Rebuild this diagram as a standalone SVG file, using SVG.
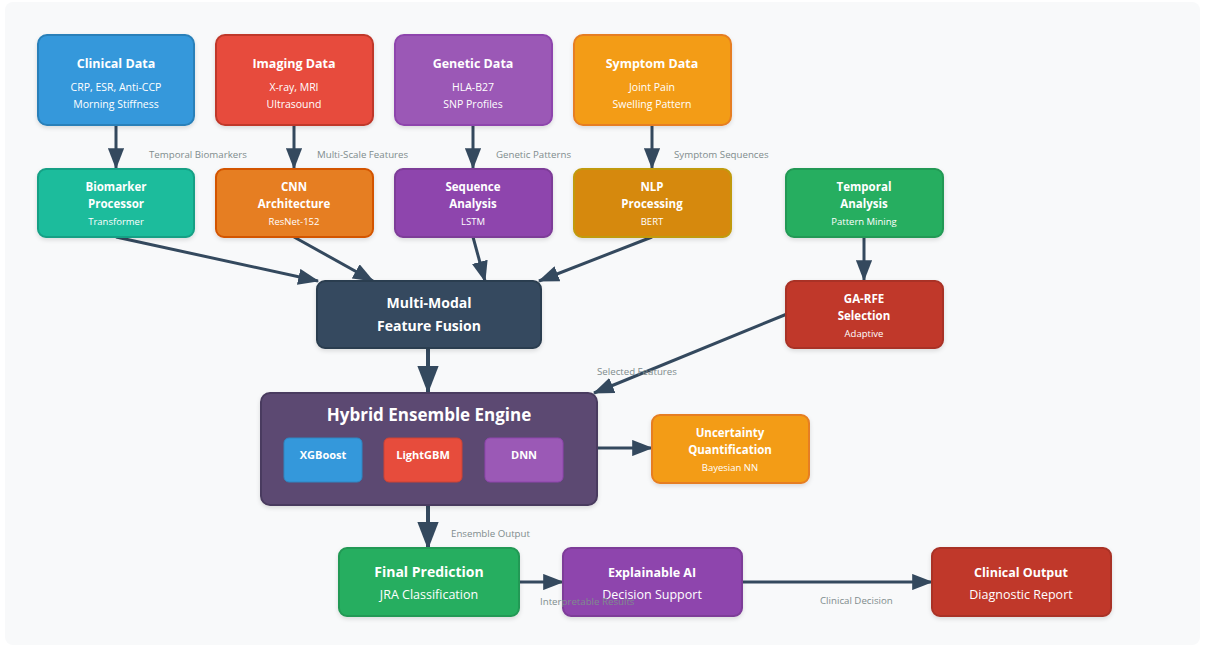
<svg xmlns="http://www.w3.org/2000/svg" width="1205" height="647" viewBox="0 0 1205 647">
<defs>
<marker id="ah" viewBox="0 0 7 5.4" refX="6.6" refY="2.7" markerWidth="7" markerHeight="5.4" orient="auto" markerUnits="strokeWidth">
<path d="M0,0 L7,2.7 L0,5.4 z" fill="#34495e"/>
</marker>
<filter id="sh" x="-10%" y="-10%" width="120%" height="130%">
<feDropShadow dx="0" dy="2" stdDeviation="2" flood-color="#000" flood-opacity="0.12"/>
</filter>
</defs>
<style>
text{font-family:"Open Sans","Noto Sans","Liberation Sans",sans-serif;text-anchor:middle;fill:#fff}
.t{font-size:12.5px;font-weight:bold}
.t2{font-size:11.5px;font-weight:bold}
.s{font-size:10.5px}
.s2{font-size:9.5px}
.big{font-size:14px;font-weight:bold}
.lbl{font-size:9.7px;fill:#7f8c8d;text-anchor:start}
.node{stroke-width:2;filter:url(#sh)}
.c{fill:none;stroke:#34495e;stroke-width:3;marker-end:url(#ah)}
.cw{stroke-width:4}
</style>
<rect x="5" y="2" width="1195" height="643" rx="8" fill="#f8f9fa"/>

<g id="connectors">
<line class="c" x1="116" y1="125" x2="116" y2="168"/>
<line class="c" x1="294" y1="125" x2="294" y2="168"/>
<line class="c" x1="473" y1="125" x2="473" y2="168"/>
<line class="c" x1="652" y1="125" x2="652" y2="168"/>
<line class="c" x1="116" y1="237" x2="318" y2="281"/>
<line class="c" x1="294" y1="237" x2="373" y2="281"/>
<line class="c" x1="473" y1="237" x2="485" y2="281"/>
<line class="c" x1="652" y1="237" x2="539" y2="281"/>
<line class="c" x1="864" y1="237" x2="864" y2="280"/>
<line class="c" x1="787" y1="314" x2="594" y2="393"/>
<line class="c cw" x1="428" y1="348" x2="428" y2="392"/>
<line class="c" x1="598" y1="448" x2="652" y2="448"/>
<line class="c cw" x1="428" y1="505" x2="428" y2="548"/>
<line class="c" x1="519" y1="582" x2="563" y2="582"/>
<line class="c" x1="742" y1="582" x2="932" y2="582"/>
</g>

<g id="clinical-data">
<rect class="node" x="38" y="35" width="156" height="90" rx="9" fill="#3498db" stroke="#2980b9"/>
<text class="t" x="116" y="68">Clinical Data</text>
<text class="s" x="116" y="91">CRP, ESR, Anti-CCP</text>
<text class="s" x="116" y="108">Morning Stiffness</text>
</g>
<g id="imaging-data">
<rect class="node" x="216" y="35" width="157" height="90" rx="9" fill="#e74c3c" stroke="#c0392b"/>
<text class="t" x="294" y="68">Imaging Data</text>
<text class="s" x="294" y="91">X-ray, MRI</text>
<text class="s" x="294" y="108">Ultrasound</text>
</g>
<g id="genetic-data">
<rect class="node" x="395" y="35" width="157" height="90" rx="9" fill="#9b59b6" stroke="#8e44ad"/>
<text class="t" x="473" y="68">Genetic Data</text>
<text class="s" x="473" y="91">HLA-B27</text>
<text class="s" x="473" y="108">SNP Profiles</text>
</g>
<g id="symptom-data">
<rect class="node" x="574" y="35" width="157" height="90" rx="9" fill="#f39c12" stroke="#e67e22"/>
<text class="t" x="652" y="68">Symptom Data</text>
<text class="s" x="652" y="91">Joint Pain</text>
<text class="s" x="652" y="108">Swelling Pattern</text>
</g>

<g id="biomarker-processor">
<rect class="node" x="38" y="169" width="156" height="68" rx="8" fill="#1abc9c" stroke="#16a085"/>
<text class="t2" x="116" y="191">Biomarker</text>
<text class="t2" x="116" y="208">Processor</text>
<text class="s2" x="116" y="225">Transformer</text>
</g>
<g id="cnn-architecture">
<rect class="node" x="216" y="169" width="157" height="68" rx="8" fill="#e67e22" stroke="#d35400"/>
<text class="t2" x="294" y="191">CNN</text>
<text class="t2" x="294" y="208">Architecture</text>
<text class="s2" x="294" y="225">ResNet-152</text>
</g>
<g id="sequence-analysis">
<rect class="node" x="395" y="169" width="157" height="68" rx="8" fill="#8e44ad" stroke="#7d3c98"/>
<text class="t2" x="473" y="191">Sequence</text>
<text class="t2" x="473" y="208">Analysis</text>
<text class="s2" x="473" y="225">LSTM</text>
</g>
<g id="nlp-processing">
<rect class="node" x="574" y="169" width="157" height="68" rx="8" fill="#d68910" stroke="#c19a0c"/>
<text class="t2" x="652" y="191">NLP</text>
<text class="t2" x="652" y="208">Processing</text>
<text class="s2" x="652" y="225">BERT</text>
</g>
<g id="temporal-analysis">
<rect class="node" x="786" y="169" width="157" height="68" rx="8" fill="#27ae60" stroke="#229954"/>
<text class="t2" x="864" y="191">Temporal</text>
<text class="t2" x="864" y="208">Analysis</text>
<text class="s2" x="864" y="225">Pattern Mining</text>
</g>
<g id="ga-rfe-selection">
<rect class="node" x="786" y="281" width="157" height="67" rx="8" fill="#c0392b" stroke="#a93226"/>
<text class="t2" x="864" y="303">GA-RFE</text>
<text class="t2" x="864" y="320">Selection</text>
<text class="s2" x="864" y="337">Adaptive</text>
</g>

<g id="feature-fusion">
<rect class="node" x="317" y="281" width="224" height="67" rx="8" fill="#34495e" stroke="#2c3e50"/>
<text class="big" x="429" y="308">Multi-Modal</text>
<text class="big" x="429" y="331">Feature Fusion</text>
</g>

<g id="hybrid-ensemble">
<rect class="node" x="261" y="393" width="336" height="112" rx="9" fill="#5b4a72" stroke="#4a3b5f" stroke-width="2.5"/>
<text x="429" y="421" style="font-size:17px;font-weight:bold">Hybrid Ensemble Engine</text>
<g id="xgboost">
<rect x="284" y="438" width="78" height="44" rx="5" fill="#3498db" stroke="#2e86c1" stroke-width="1"/>
<text class="t2" x="323" y="459" style="font-size:11px">XGBoost</text>
</g>
<g id="lightgbm">
<rect x="384" y="438" width="78" height="44" rx="5" fill="#e74c3c" stroke="#cb4335" stroke-width="1"/>
<text class="t2" x="423" y="459" style="font-size:11px">LightGBM</text>
</g>
<g id="dnn">
<rect x="485" y="438" width="78" height="44" rx="5" fill="#9b59b6" stroke="#8e44ad" stroke-width="1"/>
<text class="t2" x="524" y="459" style="font-size:11px">DNN</text>
</g>
</g>

<g id="uncertainty">
<rect class="node" x="652" y="415" width="157" height="68" rx="8" fill="#f39c12" stroke="#e67e22"/>
<text class="t2" x="730" y="437">Uncertainty</text>
<text class="t2" x="730" y="454">Quantification</text>
<text class="s2" x="730" y="471">Bayesian NN</text>
</g>

<g id="final-prediction">
<rect class="node" x="339" y="548" width="180" height="68" rx="8" fill="#27ae60" stroke="#229954"/>
<text class="big" x="429" y="577">Final Prediction</text>
<text x="429" y="599" style="font-size:12.5px">JRA Classification</text>
</g>
<g id="explainable-ai">
<rect class="node" x="563" y="548" width="179" height="68" rx="8" fill="#8e44ad" stroke="#7d3c98"/>
<text class="t" x="652" y="577">Explainable AI</text>
<text x="652" y="599" style="font-size:12.5px">Decision Support</text>
</g>
<g id="clinical-output">
<rect class="node" x="932" y="548" width="179" height="68" rx="8" fill="#c0392b" stroke="#a93226"/>
<text class="t" x="1021" y="577">Clinical Output</text>
<text x="1021" y="599" style="font-size:12.5px">Diagnostic Report</text>
</g>

<g id="connector-labels">
<text class="lbl" x="149" y="158">Temporal Biomarkers</text>
<text class="lbl" x="317" y="158">Multi-Scale Features</text>
<text class="lbl" x="496" y="158">Genetic Patterns</text>
<text class="lbl" x="674" y="158">Symptom Sequences</text>
<text class="lbl" x="597" y="375">Selected Features</text>
<text class="lbl" x="451" y="537">Ensemble Output</text>
<text class="lbl" x="540" y="605">Interpretable Results</text>
<text class="lbl" x="820" y="604">Clinical Decision</text>
</g>
</svg>
